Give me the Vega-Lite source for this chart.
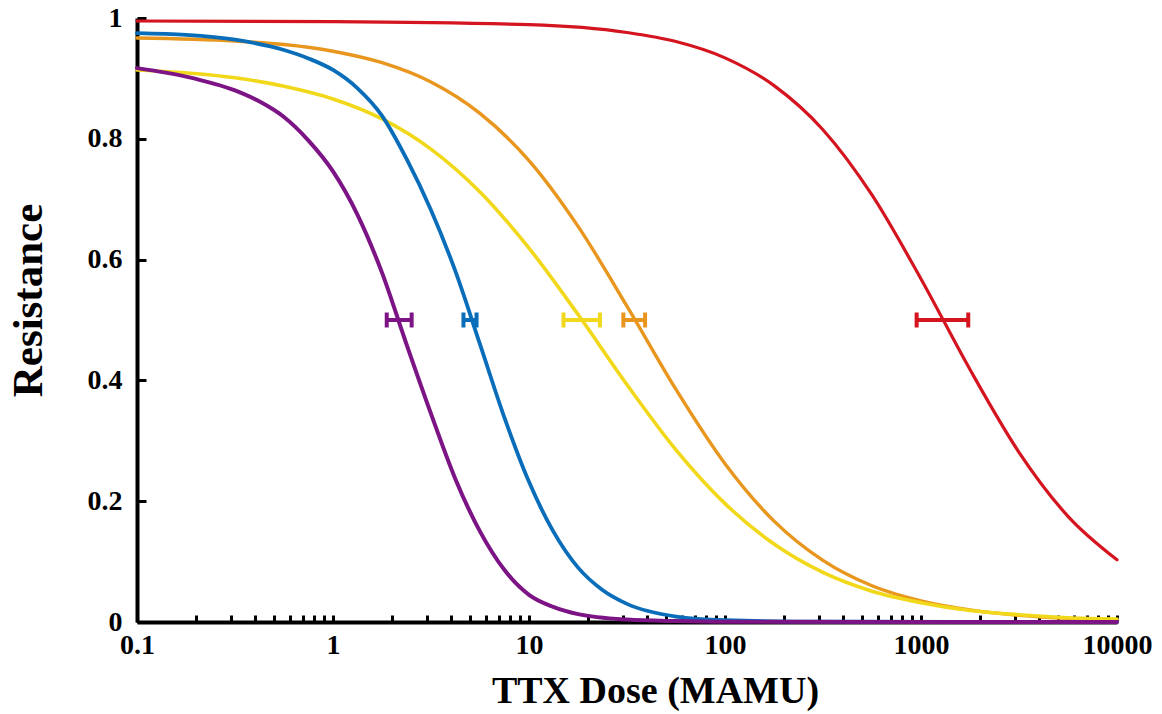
{
  "$schema": "https://vega.github.io/schema/vega-lite/v6.json",
  "width": 980,
  "height": 604,
  "autosize": {"type": "none"},
  "padding": {"left": 137, "top": 18, "right": 45, "bottom": 92},
  "background": "white",
  "config": {
    "view": {"stroke": null},
    "font": "Liberation Serif",
    "axis": {
      "labelFont": "Liberation Serif",
      "labelFontWeight": "bold",
      "labelFontSize": 28,
      "labelColor": "black",
      "titleFont": "Liberation Serif",
      "titleFontWeight": "bold",
      "titleColor": "black",
      "domainColor": "black",
      "domainWidth": 4,
      "tickColor": "black",
      "tickWidth": 3,
      "grid": false
    }
  },
  "datasets": {
    "curves": [
      {"s": "red", "dose": 0.1, "r": 0.995},
      {"s": "red", "dose": 1, "r": 0.994},
      {"s": "red", "dose": 10, "r": 0.989},
      {"s": "red", "dose": 31.6, "r": 0.976},
      {"s": "red", "dose": 56.2, "r": 0.961},
      {"s": "red", "dose": 100, "r": 0.934},
      {"s": "red", "dose": 178, "r": 0.888},
      {"s": "red", "dose": 316, "r": 0.815},
      {"s": "red", "dose": 562, "r": 0.707},
      {"s": "red", "dose": 1000, "r": 0.568},
      {"s": "red", "dose": 1778, "r": 0.418},
      {"s": "red", "dose": 3162, "r": 0.281},
      {"s": "red", "dose": 5623, "r": 0.175},
      {"s": "red", "dose": 10000, "r": 0.103},
      {"s": "orange", "dose": 0.1, "r": 0.967},
      {"s": "orange", "dose": 0.316, "r": 0.962},
      {"s": "orange", "dose": 1, "r": 0.945},
      {"s": "orange", "dose": 1.78, "r": 0.926},
      {"s": "orange", "dose": 3.16, "r": 0.894},
      {"s": "orange", "dose": 5.62, "r": 0.842},
      {"s": "orange", "dose": 10, "r": 0.764},
      {"s": "orange", "dose": 17.8, "r": 0.655},
      {"s": "orange", "dose": 31.6, "r": 0.523},
      {"s": "orange", "dose": 56.2, "r": 0.385},
      {"s": "orange", "dose": 100, "r": 0.262},
      {"s": "orange", "dose": 178, "r": 0.167},
      {"s": "orange", "dose": 316, "r": 0.102},
      {"s": "orange", "dose": 562, "r": 0.06},
      {"s": "orange", "dose": 1000, "r": 0.035},
      {"s": "orange", "dose": 1778, "r": 0.02},
      {"s": "orange", "dose": 3162, "r": 0.011},
      {"s": "orange", "dose": 5623, "r": 0.006},
      {"s": "orange", "dose": 10000, "r": 0.004},
      {"s": "yellow", "dose": 0.1, "r": 0.914},
      {"s": "yellow", "dose": 0.316, "r": 0.901},
      {"s": "yellow", "dose": 0.562, "r": 0.887},
      {"s": "yellow", "dose": 1, "r": 0.866},
      {"s": "yellow", "dose": 1.78, "r": 0.833},
      {"s": "yellow", "dose": 3.16, "r": 0.783},
      {"s": "yellow", "dose": 5.62, "r": 0.712},
      {"s": "yellow", "dose": 10, "r": 0.619},
      {"s": "yellow", "dose": 17.8, "r": 0.509},
      {"s": "yellow", "dose": 31.6, "r": 0.393},
      {"s": "yellow", "dose": 56.2, "r": 0.285},
      {"s": "yellow", "dose": 100, "r": 0.196},
      {"s": "yellow", "dose": 178, "r": 0.129},
      {"s": "yellow", "dose": 316, "r": 0.082},
      {"s": "yellow", "dose": 562, "r": 0.051},
      {"s": "yellow", "dose": 1000, "r": 0.032},
      {"s": "yellow", "dose": 1778, "r": 0.019},
      {"s": "yellow", "dose": 3162, "r": 0.012},
      {"s": "yellow", "dose": 5623, "r": 0.007},
      {"s": "yellow", "dose": 10000, "r": 0.005},
      {"s": "blue", "dose": 0.1, "r": 0.975},
      {"s": "blue", "dose": 0.178, "r": 0.972},
      {"s": "blue", "dose": 0.316, "r": 0.964},
      {"s": "blue", "dose": 0.562, "r": 0.947},
      {"s": "blue", "dose": 0.75, "r": 0.933},
      {"s": "blue", "dose": 1, "r": 0.914},
      {"s": "blue", "dose": 1.33, "r": 0.884},
      {"s": "blue", "dose": 1.78, "r": 0.838},
      {"s": "blue", "dose": 2.37, "r": 0.767},
      {"s": "blue", "dose": 3.16, "r": 0.682},
      {"s": "blue", "dose": 4.22, "r": 0.58},
      {"s": "blue", "dose": 5.62, "r": 0.46},
      {"s": "blue", "dose": 7.5, "r": 0.338},
      {"s": "blue", "dose": 10, "r": 0.232},
      {"s": "blue", "dose": 13.3, "r": 0.15},
      {"s": "blue", "dose": 17.8, "r": 0.09},
      {"s": "blue", "dose": 23.7, "r": 0.053},
      {"s": "blue", "dose": 31.6, "r": 0.03},
      {"s": "blue", "dose": 56.2, "r": 0.009},
      {"s": "blue", "dose": 100, "r": 0.003},
      {"s": "blue", "dose": 316, "r": 0.0005},
      {"s": "blue", "dose": 10000, "r": 0.0},
      {"s": "purple", "dose": 0.1, "r": 0.917},
      {"s": "purple", "dose": 0.178, "r": 0.903},
      {"s": "purple", "dose": 0.316, "r": 0.88},
      {"s": "purple", "dose": 0.42, "r": 0.862},
      {"s": "purple", "dose": 0.562, "r": 0.836},
      {"s": "purple", "dose": 0.75, "r": 0.797},
      {"s": "purple", "dose": 1, "r": 0.746},
      {"s": "purple", "dose": 1.33, "r": 0.675},
      {"s": "purple", "dose": 1.78, "r": 0.578},
      {"s": "purple", "dose": 2.37, "r": 0.46},
      {"s": "purple", "dose": 3.16, "r": 0.345},
      {"s": "purple", "dose": 4.22, "r": 0.236},
      {"s": "purple", "dose": 5.62, "r": 0.15},
      {"s": "purple", "dose": 7.5, "r": 0.086},
      {"s": "purple", "dose": 10, "r": 0.045},
      {"s": "purple", "dose": 13.3, "r": 0.025},
      {"s": "purple", "dose": 17.8, "r": 0.013},
      {"s": "purple", "dose": 31.6, "r": 0.004},
      {"s": "purple", "dose": 56.2, "r": 0.0015},
      {"s": "purple", "dose": 100, "r": 0.0005},
      {"s": "purple", "dose": 10000, "r": 0.0}
    ],
    "ld50": [
      {"s": "red", "lo": 950, "hi": 1742, "r": 0.5},
      {"s": "orange", "lo": 30.3, "hi": 39.1, "r": 0.5},
      {"s": "yellow", "lo": 15.0, "hi": 23.0, "r": 0.5},
      {"s": "blue", "lo": 4.63, "hi": 5.4, "r": 0.5},
      {"s": "purple", "lo": 1.88, "hi": 2.52, "r": 0.5}
    ]
  },
  "layer": [
    {
      "data": {"name": "curves"},
      "mark": {"type": "line", "interpolate": "monotone", "strokeCap": "round"},
      "encoding": {
        "x": {
          "field": "dose", "type": "quantitative", "title": "TTX Dose (MAMU)",
          "scale": {"type": "log", "domain": [0.1, 10000], "nice": false},
          "axis": {
            "values": [0.1,0.2,0.3,0.4,0.5,0.6,0.7,0.8,0.9,1,2,3,4,5,6,7,8,9,10,20,30,40,50,60,70,80,90,100,200,300,400,500,600,700,800,900,1000,2000,3000,4000,5000,6000,7000,8000,9000,10000],
            "labelExpr": "abs(log(datum.value)/LN10 - round(log(datum.value)/LN10)) < 0.000001 ? format(datum.value, '~g') : ''",
            "labelOverlap": false,
            "labelFlush": false,
            "tickSize": -7,
            "labelPadding": 16,
            "titleFontSize": 38,
            "titlePadding": 13,
            "titleX": 518
          }
        },
        "y": {
          "field": "r", "type": "quantitative", "title": "Resistance",
          "scale": {"domain": [0, 1], "nice": false},
          "axis": {
            "values": [0, 0.2, 0.4, 0.6, 0.8, 1],
            "format": "~g",
            "tickSize": -9,
            "labelPadding": 24,
            "titleFontSize": 43,
            "titlePadding": 37,
            "titleY": 282
          }
        },
        "color": {
          "field": "s", "type": "nominal", "legend": null,
          "scale": {"domain": ["red","orange","yellow","blue","purple"], "range": ["#D4141F","#E8961E","#F2D81A","#0A6DBA","#7D1485"]}
        },
        "strokeWidth": {
          "field": "s", "type": "nominal", "legend": null,
          "scale": {"domain": ["red","orange","yellow","blue","purple"], "range": [3.2,4,4,4,4]}
        }
      }
    },
    {
      "data": {"name": "ld50"},
      "mark": {"type": "errorbar", "opacity": 1, "ticks": {"size": 15, "thickness": 4, "opacity": 1}, "thickness": 4},
      "encoding": {
        "x": {"field": "lo", "type": "quantitative", "title": "TTX Dose (MAMU)"},
        "x2": {"field": "hi"},
        "y": {"field": "r", "type": "quantitative", "title": "Resistance"},
        "color": {"field": "s", "type": "nominal", "legend": null}
      }
    }
  ]
}
